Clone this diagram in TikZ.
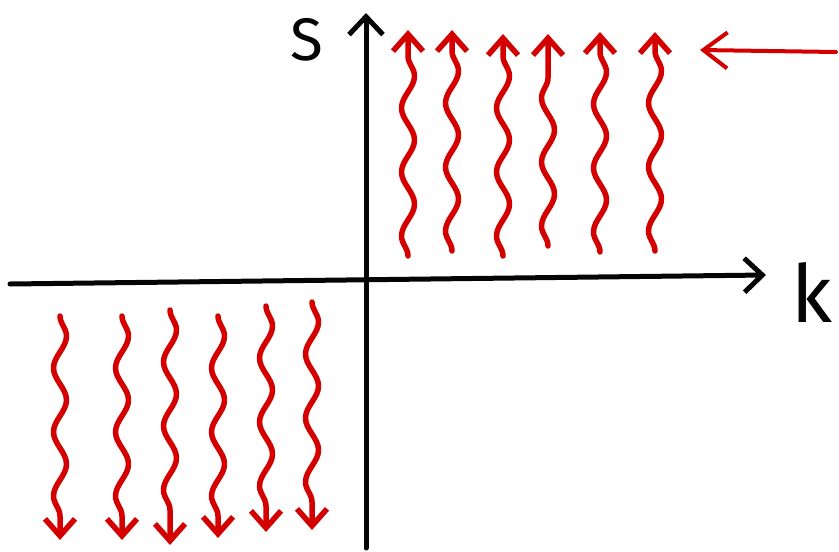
\documentclass[tikz,border=0pt]{standalone}
\usepackage{fontspec}
\newfontfamily\sketchfont{Fira Sans}
\usetikzlibrary{
  arrows.meta,
  decorations.pathmorphing,
  calc
}
\definecolor{skRed}{HTML}{D40000}
\definecolor{skInk}{HTML}{050505}
\tikzset{
  axisline/.style={line width=5pt, skInk, line cap=round, line join=round,
    -{Straight Barb[length=18pt, width=34pt, line width=5pt]}},
  wave/.style={line width=5.5pt, skRed, line cap=round, line join=round,
    -{Straight Barb[length=17pt, width=30pt, line width=5.5pt]},
    decorate, decoration={snake, amplitude=6.5pt, segment length=64pt, post length=16pt}},
  pointer/.style={line width=4pt, skRed, line cap=round, line join=round,
    -{Straight Barb[length=24pt, width=36pt, line width=4pt]}},
  axislabel/.style={font=\sketchfont, skInk, inner sep=0pt}
}
\begin{document}
\begin{tikzpicture}[x=1pt, y=-1pt]
  \useasboundingbox (0,0) rectangle (839,552);
  % axes
  \coordinate (kstart) at (10,284);
  \coordinate (kend) at (766,275);
  \coordinate (sstart) at (366,548);
  \coordinate (send) at (366,13);
  \draw[axisline] (kstart) -- (kend);
  \draw[axisline] (sstart) -- (send);
  \node[axislabel, font=\sketchfont\fontsize{60}{60}\selectfont] (slabel) at (307,40) {S};
  \node[axislabel, font=\sketchfont\fontsize{80}{80}\selectfont] (klabel) at (812,292) {k};
  % upward waves (upper right)
  \foreach \x/\ybot/\ytop in {408/256/30, 452/251/30, 503/256/34, 548/246/34, 600/252/32, 655/251/32} {
    \coordinate (ub\x) at (\x,\ybot);
    \coordinate (ut\x) at (\x,\ytop);
    \draw[wave] (ub\x) -- (ut\x);
  }
  % downward waves (lower left)
  \foreach \x/\ytop/\ybot in {60/316/540, 122/316/540, 170/310/545, 218/316/538, 266/306/532, 312/302/530} {
    \coordinate (dt\x) at (\x,\ytop);
    \coordinate (db\x) at (\x,\ybot);
    \draw[wave] (dt\x) -- (db\x);
  }
  % incoming pointer
  \coordinate (pstart) at (836,52);
  \coordinate (pend) at (700,50);
  \draw[pointer] (pstart) -- (pend);
\end{tikzpicture}
\end{document}
